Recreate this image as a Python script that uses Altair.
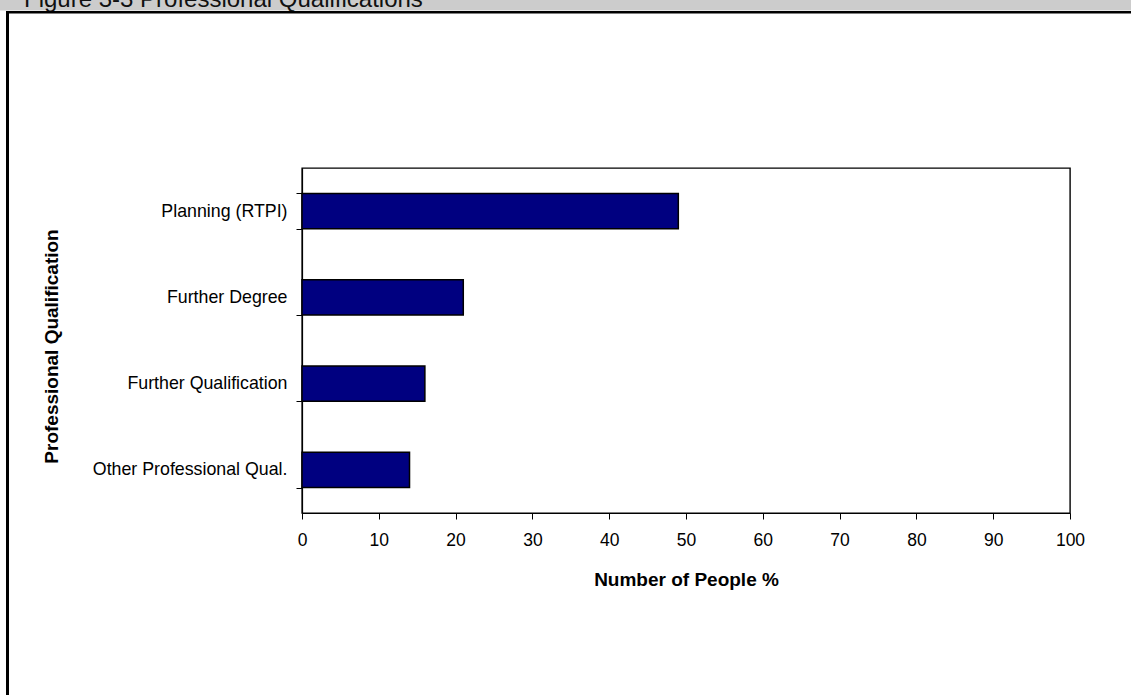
import altair as alt
import pandas as pd

# Survey results: share of respondents holding each qualification
qualifications = [
    "Planning (RTPI)",
    "Further Degree",
    "Further Qualification",
    "Other Professional Qual.",
]
percent_people = [49, 21, 16, 14]

figure_caption = ["Figure 3-3 Professional Qualifications"]

df = pd.DataFrame({"qualification": qualifications, "percent": percent_people})
caption_df = pd.DataFrame({"caption": figure_caption})

FONT = "Liberation Sans"
W, H = 768, 345
LEFT, TOP = 302, 168

bars = (
    alt.Chart(df)
    .mark_bar(color="#000080", stroke="#000000", strokeWidth=1.5)
    .encode(
        x=alt.X(
            "percent:Q",
            scale=alt.Scale(domain=[0, 100], nice=False),
            axis=alt.Axis(
                values=list(range(0, 101, 10)),
                title="Number of People %",
                titleFontWeight="bold",
                titleFontSize=19,
                titlePadding=22,
                labelFontSize=17.5,
                labelPadding=12,
                labelFlush=False,
                tickSize=6,
                grid=False,
            ),
        ),
        y=alt.Y(
            "qualification:N",
            sort=qualifications,
            scale=alt.Scale(paddingInner=0.59, paddingOuter=0.295),
            axis=alt.Axis(
                title="Professional Qualification",
                titleFontWeight="bold",
                titleFontSize=19,
                titleX=-251,
                titleY=178,
                titleAngle=-90,
                titleAlign="center",
                titleBaseline="middle",
                labelFontSize=17.8,
                labelPadding=9,
                labelLimit=0,
                tickSize=6,
                tickBand="extent",
                grid=False,
            ),
        ),
    )
)

# Page furniture: grey caption strip, heavy rules framing the figure
caption_strip = alt.Chart(caption_df).mark_rect(color="#cccccc").encode(
    x=alt.value(-LEFT), x2=alt.value(1131 - LEFT),
    y=alt.value(-TOP), y2=alt.value(-TOP + 10.5),
)
caption_text = alt.Chart(caption_df).mark_text(
    align="left", baseline="alphabetic", font=FONT, fontSize=24, color="#111111"
).encode(
    x=alt.value(-LEFT + 24), y=alt.value(-TOP + 7), text="caption:N"
)
top_rule = alt.Chart(caption_df).mark_rect(color="#000000").encode(
    x=alt.value(-LEFT + 6), x2=alt.value(1131 - LEFT),
    y=alt.value(-TOP + 11), y2=alt.value(-TOP + 13.5),
)
left_rule = alt.Chart(caption_df).mark_rect(color="#000000").encode(
    x=alt.value(-LEFT + 6), x2=alt.value(-LEFT + 9),
    y=alt.value(-TOP + 11), y2=alt.value(695 - TOP),
)

chart = (
    alt.layer(caption_strip, caption_text, top_rule, left_rule, bars)
    .properties(
        width=W,
        height=H,
        autosize=alt.AutoSizeParams(type="none"),
        padding={"left": LEFT, "top": TOP, "right": 1131 - LEFT - W, "bottom": 695 - TOP - H},
        background="#ffffff",
    )
    .configure_view(stroke="#000000", strokeWidth=1.4)
    .configure_axis(
        labelFont=FONT,
        titleFont=FONT,
        labelColor="#000000",
        titleColor="#000000",
        domainColor="#000000",
        tickColor="#000000",
        domainWidth=1.2,
        tickWidth=1,
    )
)

chart.save("out.html", embed_options={"renderer": "svg", "actions": False})
